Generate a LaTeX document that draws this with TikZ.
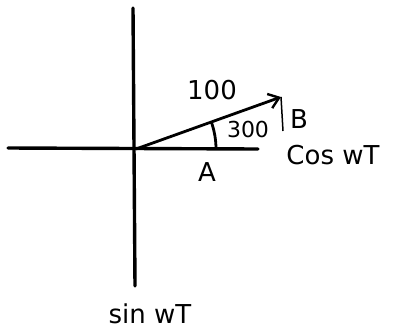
\documentclass[tikz,border=0pt]{standalone}
\usepackage{fontspec}
\setmainfont{DejaVu Sans}
\usetikzlibrary{arrows.meta}
\tikzset{
    axis/.style={line width=3.4pt, line cap=round},
    phasor/.style={line width=2.8pt, -{Straight Barb[length=10pt, width=15pt, line width=2.4pt]}},
    drop/.style={line width=1.5pt},
    lbl/.style={font=\fontsize{26}{28}\selectfont, inner sep=0pt},
}
\begin{document}
\begin{tikzpicture}[x=1pt, y=-1pt]
        \useasboundingbox (0,0) rectangle (393,330);
        % Punti
        \coordinate (O) at (136,149);
        \coordinate (xl) at (8,148);
        \coordinate (xr) at (258,149);
        \coordinate (yt) at (133,8);
        \coordinate (yb) at (135,286);
        \coordinate (tip) at (281,97);
        \coordinate (foot) at (283,131);

        % Assi
        \draw[axis] (xl) -- (xr);
        \draw[axis] (yt) -- (yb);

        % Fasore
        \draw[phasor] (O) -- (tip);
        \draw[drop] (tip) -- (foot);
        \draw[line width=2.8pt] ([shift={(0:80)}]O) arc[start angle=0, end angle=-20, radius=80];

        % Etichette
        \node[lbl] (mag) at (212,90) {100};
        \node[lbl, font=\fontsize{22}{24}\selectfont] (ang) at (248,129) {300};
        \node[lbl] (B) at (299,119) {B};
        \node[lbl] (A) at (207,172) {A};
        \node[lbl] (cos) at (333,155) {Cos wT};
        \node[lbl] (sin) at (150,314) {sin wT};
\end{tikzpicture}
\end{document}
